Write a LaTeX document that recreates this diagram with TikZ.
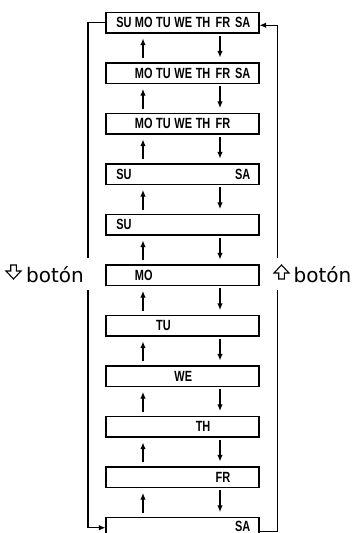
\documentclass[tikz,border=0pt]{standalone}
\usepackage{graphicx}
\usepackage{fontspec}
\setmainfont{Liberation Sans}
\newfontfamily\dejavu{DejaVu Sans}
\usetikzlibrary{arrows.meta}
\newcommand{\dy}[1]{\makebox[19.8pt][c]{\scalebox{0.74}[1]{#1}}}
\newcommand{\wk}[7]{\hspace*{8pt}\dy{#1}\dy{#2}\dy{#3}\dy{#4}\dy{#5}\dy{#6}\dy{#7}\hspace*{6.4pt}}
\tikzset{
  daybox/.style={draw, line width=1.1pt, rectangle, inner xsep=0pt, inner ysep=0pt,
    minimum width=153pt, minimum height=20.5pt,
    font=\fontsize{14.8}{14.8}\selectfont\bfseries},
  arr/.style={line width=1.1pt, -{Latex[length=6.5pt,width=5.5pt]}},
  conn/.style={line width=1.1pt},
  btn/.style={font=\dejavu\fontsize{20}{20}\selectfont, inner sep=0pt, anchor=base},
  warrow/.style={draw, line width=1.1pt, line join=miter}
}
\begin{document}
\begin{tikzpicture}[x=1pt,y=-1pt]
\useasboundingbox (0,0) rectangle (354,533);
\clip (0,0) rectangle (354,533);
\node[daybox] (b1)  at (182.5, 22.75) {\wk{SU}{MO}{TU}{WE}{TH}{FR}{SA}};
\node[daybox] (b2)  at (182.5, 73.25) {\wk{}{MO}{TU}{WE}{TH}{FR}{SA}};
\node[daybox] (b3)  at (182.5,123.75) {\wk{}{MO}{TU}{WE}{TH}{FR}{}};
\node[daybox] (b4)  at (182.5,174.25) {\wk{SU}{}{}{}{}{}{SA}};
\node[daybox] (b5)  at (182.5,224.75) {\wk{SU}{}{}{}{}{}{}};
\node[daybox] (b6)  at (182.5,275.25) {\wk{}{MO}{}{}{}{}{}};
\node[daybox] (b7)  at (182.5,325.75) {\wk{}{}{TU}{}{}{}{}};
\node[daybox] (b8)  at (182.5,376.25) {\wk{}{}{}{WE}{}{}{}};
\node[daybox] (b9)  at (182.5,426.75) {\wk{}{}{}{}{TH}{}{}};
\node[daybox] (b10) at (182.5,477.25) {\wk{}{}{}{}{}{FR}{}};
\node[daybox] (b11) at (182.5,527.75) {\wk{}{}{}{}{}{}{\raisebox{3pt}{SA}}};
\coordinate (ux) at (143,0);
\coordinate (dx) at (220,0);
\foreach \k [evaluate=\k as \n using int(\k+1)] in {1,...,10}{
  \draw[arr, shorten <=4pt, shorten >=5pt] (b\n.north -| ux) -- (b\k.south -| ux);
  \draw[arr, shorten <=2pt, shorten >=5pt] (b\k.south -| dx) -- (b\n.north -| dx);
}
\node[btn] (lbl) at (55,282) {botón};
\node[btn] (rbl) at (322.5,282) {botón};
\draw[warrow] (10.7,265) -- (16.3,265) -- (16.3,271) -- (21,271) -- (13.5,279)
  -- (6,271) -- (10.7,271) -- cycle;
\draw[warrow] (278.7,279) -- (284.3,279) -- (284.3,273) -- (289,273) -- (281.5,265)
  -- (274,273) -- (278.7,273) -- cycle;
\coordinate (lt) at (88,258);
\coordinate (lb) at (88,290);
\coordinate (rt) at (277.5,258);
\coordinate (rb) at (277.5,290);
\draw[conn] (b1.west) -| (lt);
\draw[arr] (lb) |- (b11.west);
\draw[conn] ([yshift=-4pt]b11.east) -| (rb);
\draw[arr] (rt) |- ([yshift=-2.5pt]b1.east);
\end{tikzpicture}
\end{document}
